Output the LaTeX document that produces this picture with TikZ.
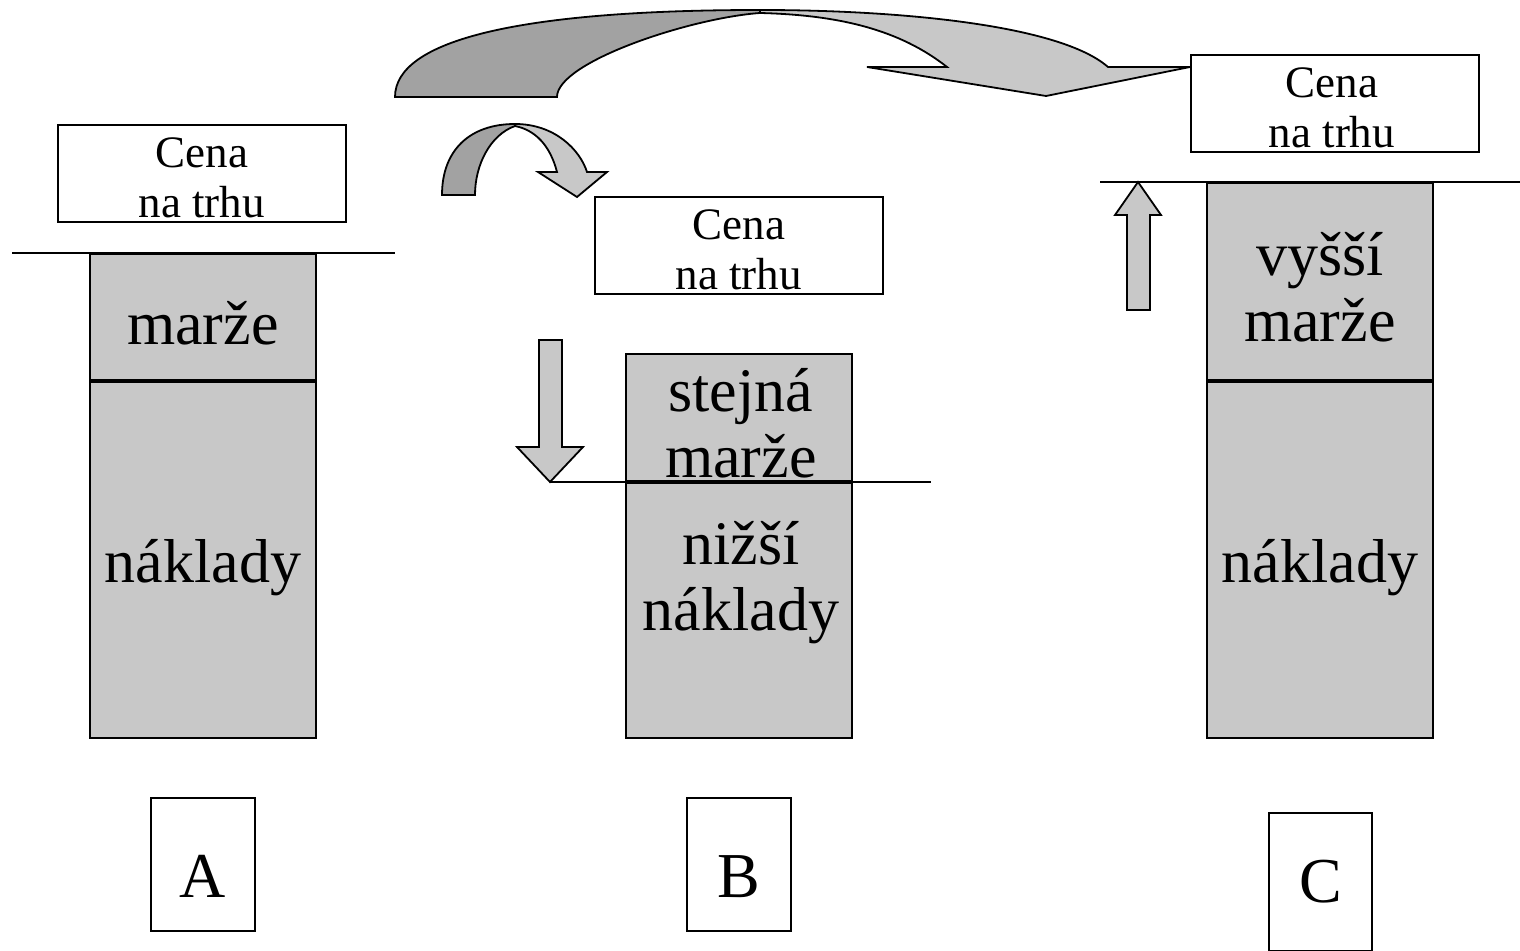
\documentclass[tikz,border=0pt]{standalone}
\usepackage{fontspec}
\setmainfont{Liberation Serif}
\usetikzlibrary{positioning}

\definecolor{boxgray}{RGB}{200,200,200}
\definecolor{backgray}{RGB}{162,162,162}

\begin{document}
\begin{tikzpicture}[x=0.5pt, y=-0.5pt,
    bar/.style = {draw, fill=boxgray, line width=0.9pt, inner sep=0pt,
                  anchor=north west, minimum width=113pt},
    price/.style = {draw, fill=white, line width=0.9pt, inner sep=0pt,
                    anchor=north west, minimum width=144pt, minimum height=48.5pt},
    letterbox/.style = {draw, line width=0.9pt, inner sep=0pt, anchor=north west,
                        minimum width=52pt, font=\fontsize{32}{36}\selectfont},
    big/.style = {align=center, font=\fontsize{31}{33}\selectfont},
    small/.style = {align=center, font=\fontsize{22.5}{25}\selectfont},
    block arrow/.style = {draw, fill=boxgray, line width=0.9pt, line join=miter},
    back arrow/.style = {draw, fill=backgray, line width=0.9pt, line join=miter}]

  \useasboundingbox (0,0) rectangle (1520,951);

  % A
  \node[price] (pA) at (57,124) {};
  \node[small] (pAt) at ([yshift=-2pt]pA.center) {Cena\\na trhu};
  \node[bar, minimum height=63pt] (mA) at (89,253) {};
  \node[big] (mAt) at ([yshift=-3pt]mA.center) {marže};
  \node[bar, minimum height=178pt] (cA) at (89,381) {};
  \node[big] (cAt) at ([yshift=-4pt]cA.center) {náklady};
  \node[letterbox, minimum height=66.5pt, text height=33pt, text depth=0pt] (lA) at (150,797) {A};
  \draw[line width=0.9pt] (12,253) -- (395,253);

  % B
  \node[price] (pB) at (594,196) {};
  \node[small] (pBt) at ([yshift=-2pt]pB.center) {Cena\\na trhu};
  \node[bar, minimum height=63.5pt] (mB) at (625,353) {};
  \node[big] (mBt) at ([xshift=1pt, yshift=-2.75pt]mB.center) {stejná\\marže};
  \node[bar, minimum height=127.5pt] (cB) at (625,482) {};
  \node[big] (cBt) at ([xshift=1pt, yshift=13.75pt]cB.center) {nižší\\náklady};
  \node[letterbox, minimum height=66.5pt, text height=33pt, text depth=0pt] (lB) at (686,797) {B};
  \coordinate (tipB) at (550,482);
  \draw[line width=0.9pt] (tipB) -- (931,482);
  \draw[block arrow] (539,340) -- (562,340) -- (562,447) -- (583,447) -- (tipB)
    -- (517,447) -- (539,447) -- cycle;

  % C
  \node[price] (pC) at (1190,54) {};
  \node[small] (pCt) at ([xshift=-1.5pt, yshift=-2pt]pC.center) {Cena\\na trhu};
  \node[bar, minimum height=98.5pt] (mC) at (1206,182) {};
  \node[big] (mCt) at ([yshift=-2.75pt]mC.center) {vyšší\\marže};
  \node[bar, minimum height=178pt] (cC) at (1206,381) {};
  \node[big] (cCt) at ([yshift=-4pt]cC.center) {náklady};
  \node[letterbox, minimum width=51.5pt, minimum height=69pt] (lC) at (1268,812) {C};
  \coordinate (tipC) at (1138,182);
  \draw[line width=0.9pt] (1100,182) -- (1520,182);
  \draw[block arrow] (1127,310) -- (1150,310) -- (1150,215) -- (1161,215) -- (tipC)
    -- (1115,215) -- (1127,215) -- cycle;

  % curved arrows
  \draw[back arrow] (395,97) .. controls (395,40) and (520,10) .. (760,10)
    -- (760,13) .. controls (690,18) and (557,62) .. (557,97) -- cycle;
  \draw[block arrow] (760,10) .. controls (900,10) and (1060,25) .. (1108,67)
    -- (1190,67) -- (1046,96) -- (867,67) -- (947,67)
    .. controls (900,30) and (840,15) .. (760,13) -- cycle;

  \draw[back arrow] (442,195) .. controls (442,150) and (470,124) .. (515,124)
    -- (515,126) .. controls (490,135) and (475,165) .. (475,195) -- cycle;
  \draw[block arrow] (515,124) .. controls (555,124) and (580,150) .. (587,172)
    -- (607,172) -- (577,197) -- (538,172) -- (557,172)
    .. controls (550,145) and (535,130) .. (515,126) -- cycle;
\end{tikzpicture}
\end{document}
